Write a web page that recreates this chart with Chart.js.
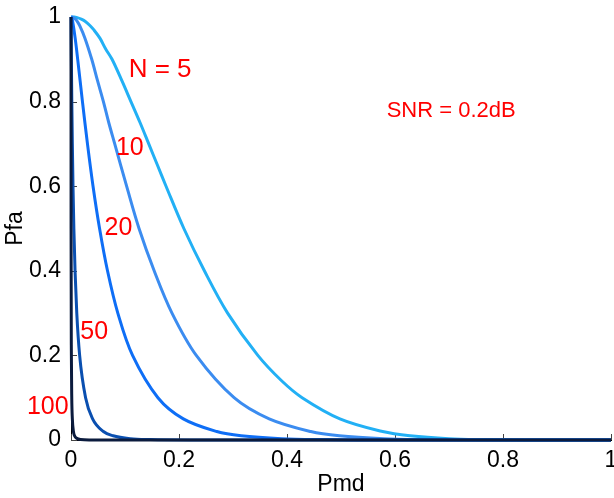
<!DOCTYPE html>
<html>
<head>
<meta charset="utf-8">
<script src="https://cdn.jsdelivr.net/npm/chart.js@4.4.0/dist/chart.umd.min.js"></script>
<style>
  html, body { margin: 0; padding: 0; background: #fff; }
  #wrap { width: 614px; height: 498px; }
</style>
</head>
<body>
<div id="wrap"><canvas id="rocChart"></canvas></div>
<script>
// values (Pmd on x, Pfa on y)
const pmd5 = [0, 0.006, 0.01, 0.019, 0.026, 0.035, 0.042, 0.0535, 0.064, 0.076, 0.094, 0.111, 0.128, 0.144, 0.16, 0.176, 0.209, 0.247, 0.29, 0.346, 0.39, 0.428, 0.498, 0.577, 0.628, 0.7, 0.758, 0.85, 1];
const pfa5 = [1, 0.9999, 0.999, 0.995, 0.99, 0.98, 0.97, 0.95, 0.925, 0.90, 0.85, 0.80, 0.75, 0.70, 0.65, 0.60, 0.50, 0.40, 0.30, 0.20, 0.14, 0.10, 0.05, 0.02, 0.01, 0.003, 0.001, 0.0001, 0];

const pmd10 = [0, 0.002, 0.004, 0.0082, 0.0113, 0.0159, 0.0258, 0.0384, 0.049, 0.06, 0.07, 0.081, 0.103, 0.126, 0.154, 0.187, 0.232, 0.302, 0.367, 0.444, 0.497, 0.58, 0.643, 0.75, 1];
const pfa10 = [1, 0.9999, 0.999, 0.995, 0.99, 0.98, 0.95, 0.90, 0.85, 0.80, 0.75, 0.70, 0.60, 0.50, 0.40, 0.30, 0.20, 0.10, 0.05, 0.02, 0.01, 0.003, 0.001, 0.0001, 0];

const pmd20 = [0, 0.001, 0.003, 0.0077, 0.0124, 0.0212, 0.0305, 0.0408, 0.0529, 0.0676, 0.0867, 0.114, 0.161, 0.208, 0.27, 0.315, 0.39, 0.457, 0.6, 1];
const pfa20 = [1, 0.999, 0.99, 0.95, 0.90, 0.80, 0.70, 0.60, 0.50, 0.40, 0.30, 0.20, 0.10, 0.05, 0.02, 0.01, 0.003, 0.001, 0, 0];

const pmd50 = [0, 0.0007, 0.0015, 0.0025, 0.0037, 0.0053, 0.0075, 0.0107, 0.016, 0.027, 0.04, 0.06, 0.078, 0.11, 0.147, 0.23, 0.35, 1];
const pfa50 = [1, 0.90, 0.80, 0.70, 0.60, 0.50, 0.40, 0.30, 0.20, 0.10, 0.05, 0.02, 0.01, 0.003, 0.001, 0.0001, 0, 0];

const pmd100 = [0, 0.00015, 0.0007, 0.0014, 0.0025, 0.0045, 0.0066, 0.0105, 0.0176, 0.036, 0.06, 1];
const pfa100 = [1, 0.50, 0.20, 0.10, 0.05, 0.02, 0.01, 0.004, 0.001, 0.0001, 0, 0];

const seriesN = ['5', '10', '20', '50', '100'];
const seriesPmd = [pmd5, pmd10, pmd20, pmd50, pmd100];
const seriesPfa = [pfa5, pfa10, pfa20, pfa50, pfa100];
const seriesColors = ['#22B0F5', '#3B8CF0', '#0E6EF6', '#0A4FB0', '#0B1B3D'];

const tickValues = [0, 0.2, 0.4, 0.6, 0.8, 1];

// text labels in data coordinates
const labelTexts = ['N = 5', '10', '20', '50', '100'];
const labelX = [0.165, 0.109, 0.088, 0.043, -0.043];
const labelY = [0.874, 0.690, 0.501, 0.256, 0.078];
const snrText = 'SNR = 0.2dB';

const FONT = "'Liberation Sans', Arial, sans-serif";

// smooth bezier for the wide curves, monotone for the sharp-cornered ones
const datasets = seriesN.map((n, i) => ({
  label: 'N = ' + n,
  data: seriesPmd[i].map((x, j) => ({ x: x, y: seriesPfa[i][j] })),
  borderColor: seriesColors[i],
  borderWidth: 3,
  pointRadius: 0,
  fill: false,
  cubicInterpolationMode: i < 3 ? 'default' : 'monotone',
  tension: 0.35,
  clip: 6,
  order: seriesN.length - i
}));

// inward tick marks like the original figure
const innerTicks = {
  id: 'innerTicks',
  beforeDatasetsDraw(chart) {
    const ctx = chart.ctx;
    const xs = chart.scales.x, ys = chart.scales.y;
    const area = chart.chartArea;
    ctx.save();
    ctx.strokeStyle = '#444';
    ctx.lineWidth = 1;
    ctx.beginPath();
    tickValues.forEach(v => {
      const px = Math.round(xs.getPixelForValue(v)) + 0.5;
      ctx.moveTo(px, area.bottom);
      ctx.lineTo(px, area.bottom - 6);
      const py = Math.round(ys.getPixelForValue(v)) + 0.5;
      ctx.moveTo(area.left, py);
      ctx.lineTo(area.left + 6, py);
    });
    ctx.stroke();
    ctx.restore();
  }
};

const textLabels = {
  id: 'textLabels',
  afterDraw(chart) {
    const ctx = chart.ctx;
    const xs = chart.scales.x, ys = chart.scales.y;
    ctx.save();
    ctx.fillStyle = '#FF0000';
    ctx.textAlign = 'center';
    ctx.textBaseline = 'middle';
    labelTexts.forEach((t, i) => {
      ctx.font = (i === 0 ? '26px ' : '25px ') + FONT;
      ctx.fillText(t, xs.getPixelForValue(labelX[i]), ys.getPixelForValue(labelY[i]));
    });
    ctx.font = '22px ' + FONT;
    ctx.fillText(snrText, xs.getPixelForValue(0.704), ys.getPixelForValue(0.778));
    ctx.restore();
  }
};

const fmt = (v) => String(v);

new Chart(document.getElementById('rocChart'), {
  type: 'line',
  data: { datasets: datasets },
  options: {
    responsive: true,
    maintainAspectRatio: false,
    animation: false,
    layout: { padding: { top: 17, right: 3, left: 0, bottom: 0 } },
    plugins: {
      legend: { display: false },
      tooltip: { enabled: false }
    },
    scales: {
      x: {
        type: 'linear',
        min: 0,
        max: 1,
        afterBuildTicks: (s) => { s.ticks = tickValues.map(v => ({ value: v })); },
        afterFit: (s) => { s.height = 58; s.paddingLeft = 0; s.paddingRight = 0; },
        grid: { drawOnChartArea: false, drawTicks: false },
        border: { display: true, color: '#000', width: 1 },
        ticks: { color: '#000', padding: 7, maxRotation: 0, callback: fmt, font: { family: FONT, size: 23 } },
        title: { display: true, text: 'Pmd', color: '#000', padding: { top: 0, bottom: 0 }, font: { family: FONT, size: 23 } }
      },
      y: {
        type: 'linear',
        min: 0,
        max: 1,
        afterBuildTicks: (s) => { s.ticks = tickValues.map(v => ({ value: v })); },
        afterFit: (s) => { s.width = 71; s.paddingTop = 0; s.paddingBottom = 0; },
        grid: { drawOnChartArea: false, drawTicks: false },
        border: { display: true, color: '#000', width: 1 },
        ticks: { color: '#000', padding: 10, callback: fmt, font: { family: FONT, size: 23 } },
        title: { display: true, text: 'Pfa', color: '#000', padding: { top: 2, bottom: 0 }, font: { family: FONT, size: 23 } }
      }
    }
  },
  plugins: [innerTicks, textLabels]
});
</script>
</body>
</html>
